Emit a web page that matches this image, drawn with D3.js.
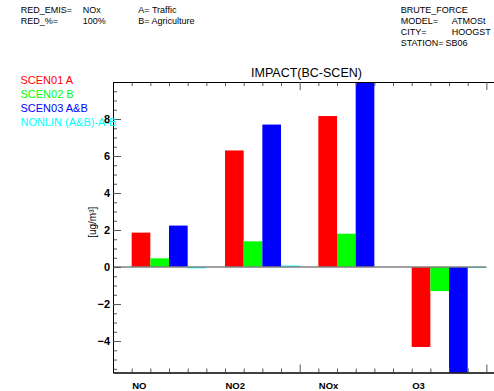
<!DOCTYPE html>
<html>
<head>
<meta charset="utf-8">
<script src="https://cdn.jsdelivr.net/npm/d3@7/dist/d3.min.js"></script>
<style>
  html, body { margin: 0; padding: 0; background: #fff; }
  svg { display: block; font-family: "Liberation Sans", Arial, Helvetica, sans-serif; }
</style>
</head>
<body>
<svg id="chart" width="494" height="391"></svg>
<script>
// Species on the x axis
const categories = ["NO", "NO2", "NOx", "O3"];
// Impact (base case minus scenario) in ug/m3
const scen01 = [1.86, 6.30, 8.16, -4.32];
const scen02 = [0.47, 1.39, 1.80, -1.30];
const scen03 = [2.24, 7.70, 10.0, -5.70];
const nonlin = [-0.07, 0.08, 0.00, -0.05];
const seriesNames = ["SCEN01 A", "SCEN02 B", "SCEN03 A&B", "NONLIN (A&B)-A-B"];
const seriesColors = ["#ff0000", "#00ff00", "#0000ff", "#00ffff"];
const yMajorTicks = [-4, -2, 0, 2, 4, 6, 8];

const headerLeft = [
  ["RED_EMIS=", "NOx", "A= Traffic"],
  ["RED_%=", "100%", "B= Agriculture"]
];
const headerRight = [
  ["BRUTE_FORCE", ""],
  ["MODEL=", "ATMOSt"],
  ["CITY=", "HOOGST"],
  ["STATION=", "SB06"]
];

const series = [scen01, scen02, scen03, nonlin];

const svg = d3.select("#chart");
const L = 113, R = 500, T = 82, B = 372.5;

// One unit of x = one bar slot; each species takes one gap slot + four bars
const x = d3.scaleLinear().domain([0, 20.73]).range([L, R]);
const y = d3.scaleLinear().domain([-5.7, 10]).range([B, T]);

// Bars
const bars = [];
categories.forEach((c, i) => {
  series.forEach((s, j) => {
    bars.push({ cat: c, j: j, slot: 1 + 5 * i + j, v: s[i] });
  });
});
svg.append("g").selectAll("rect").data(bars).join("rect")
  .attr("x", d => x(d.slot))
  .attr("width", d => x(d.slot + 1) - x(d.slot))
  .attr("y", d => y(Math.max(0, d.v)))
  .attr("height", d => Math.max(Math.abs(y(d.v) - y(0)), d.v === 0 ? 0 : 1))
  .attr("fill", d => seriesColors[d.j]);

// Zero line
svg.append("line")
  .attr("x1", x(0)).attr("x2", x(20))
  .attr("y1", y(0)).attr("y2", y(0))
  .attr("stroke", "#808080").attr("stroke-width", 1.5);

// Axes (ticks point inward)
function styleAxis(g) {
  g.select(".domain").attr("stroke", "#000").attr("stroke-width", 1);
  g.selectAll(".tick line").attr("stroke", "#555");
  g.selectAll(".tick text").attr("fill", "#000");
}
const minorY = d3.range(-5.5, 10.01, 0.5).filter(v => !yMajorTicks.includes(v));
svg.append("g").attr("transform", `translate(${L},0)`)
  .call(d3.axisLeft(y).tickValues(minorY).tickSize(-4).tickSizeOuter(0).tickFormat(""))
  .call(styleAxis);
svg.append("g").attr("transform", `translate(${L},0)`)
  .call(d3.axisLeft(y).tickValues(yMajorTicks).tickSize(-8).tickSizeOuter(0).tickPadding(3))
  .call(styleAxis)
  .call(g => g.selectAll(".tick text")
    .attr("font-size", 11).attr("font-weight", "bold")
    .attr("font-family", "'Liberation Sans', Arial, sans-serif"));

const minorX = d3.range(1, 21).filter(v => v % 10 !== 0);
const majorX = [10, 20];
[[B, d3.axisBottom], [T, d3.axisTop]].forEach(([py, ax]) => {
  svg.append("g").attr("transform", `translate(0,${py})`)
    .call(ax(x).tickValues(minorX).tickSize(-4).tickSizeOuter(0).tickFormat(""))
    .call(styleAxis);
  svg.append("g").attr("transform", `translate(0,${py})`)
    .call(ax(x).tickValues(majorX).tickSize(-8).tickSizeOuter(0).tickFormat(""))
    .call(styleAxis);
});

// Category labels, left-aligned on the first bar of each group
svg.append("g").selectAll("text").data(categories).join("text")
  .attr("x", (d, i) => x(1 + 5 * i) + 0.5)
  .attr("y", 388.5)
  .attr("font-size", 9.5).attr("font-weight", "bold")
  .text(d => d);

// Title
svg.append("text")
  .attr("x", (L + R) / 2).attr("y", 76.5)
  .attr("text-anchor", "middle").attr("font-size", 12.5)
  .text("IMPACT(BC-SCEN)");

// Y axis label
svg.append("text")
  .attr("transform", `translate(96,${(T + B) / 2 - 5}) rotate(-90)`)
  .attr("text-anchor", "middle").attr("font-size", 10)
  .text("[ug/m³]");

// Legend
svg.append("g").selectAll("text").data(seriesNames).join("text")
  .attr("x", 20.5)
  .attr("y", (d, i) => 83.5 + i * 14.2)
  .attr("font-size", 11)
  .attr("fill", (d, i) => seriesColors[i])
  .text(d => d);

// Run information header
const hl = svg.append("g").attr("font-size", 9);
headerLeft.forEach((row, i) => {
  const yy = 12.8 + i * 11.2;
  hl.append("text").attr("x", 20.7).attr("y", yy).text(row[0]);
  hl.append("text").attr("x", 82.7).attr("y", yy).text(row[1]);
  hl.append("text").attr("x", 138.3).attr("y", yy).text(row[2]);
});
const hr = svg.append("g").attr("font-size", 9);
headerRight.forEach((row, i) => {
  const yy = 13.3 + i * 11;
  hr.append("text").attr("x", 400.7).attr("y", yy).text(row[0]);
  if (row[1]) hr.append("text").attr("x", i === 3 ? 445.5 : 451.7).attr("y", yy).text(row[1]);
});
</script>
</body>
</html>
